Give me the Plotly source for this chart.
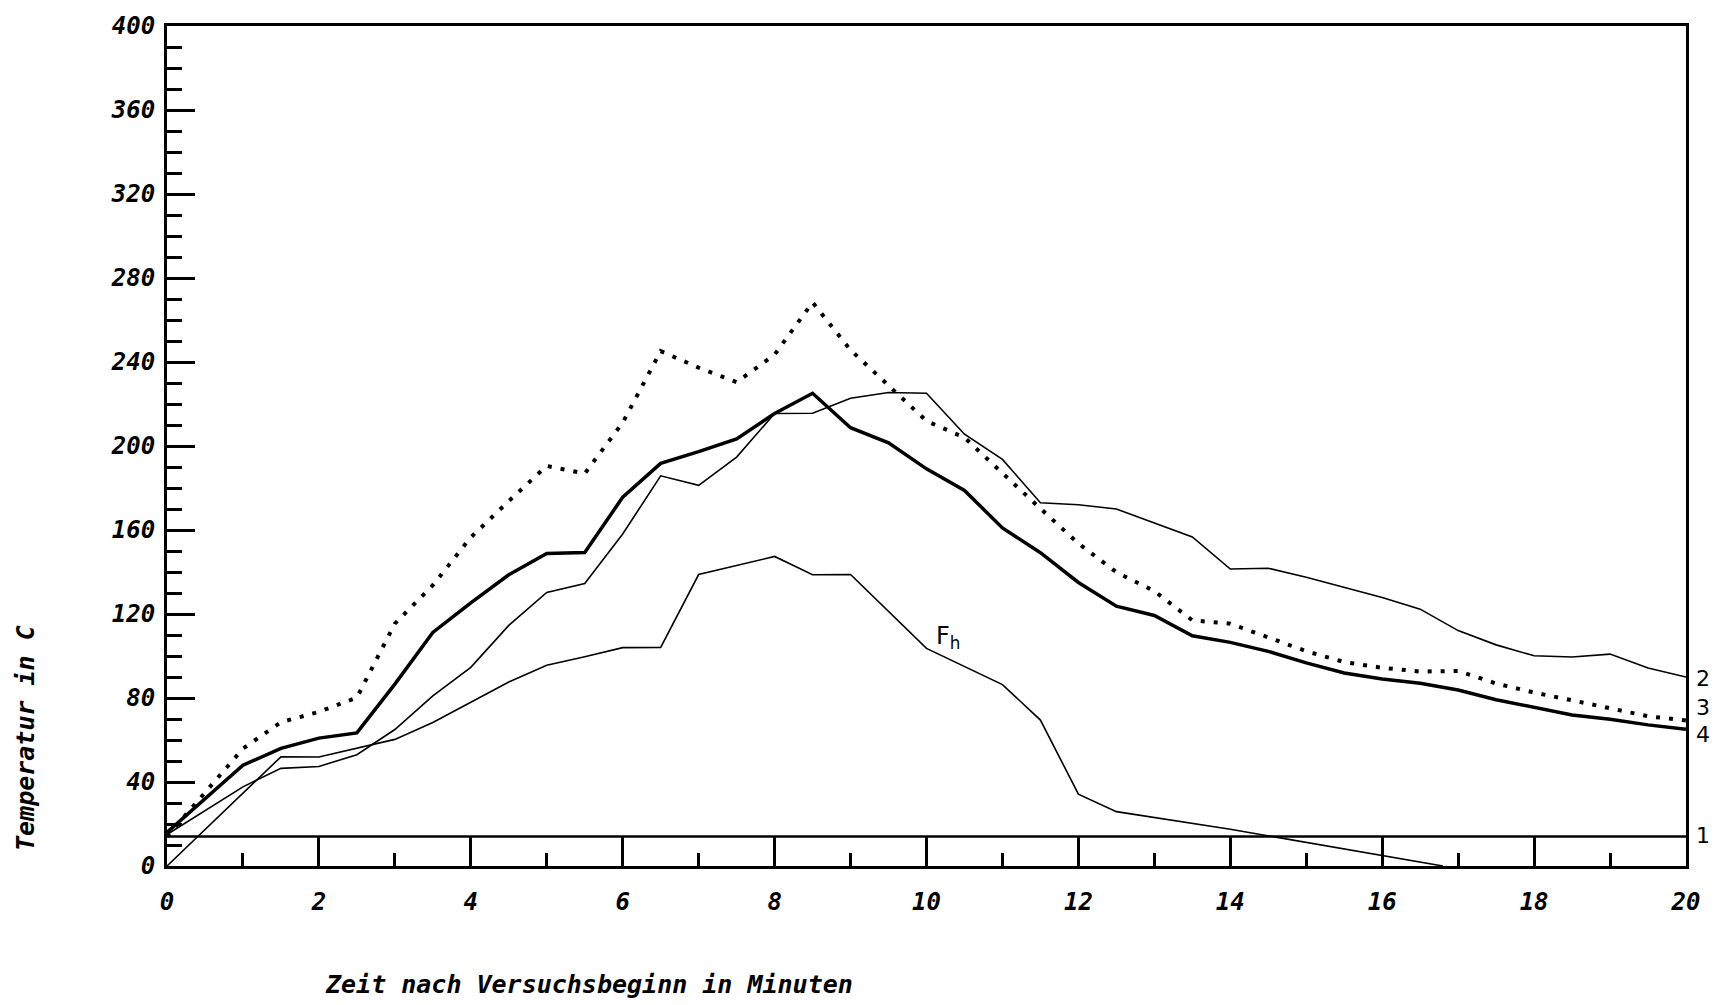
import plotly.graph_objects as go

# ---- data (time in minutes, temperature in C) ----
t_curve1 = [0, 20]
v_curve1 = [14, 14]

t_curve2 = [0, 1, 1.5, 2, 2.5, 3, 3.5, 4, 4.5, 5, 5.5, 6, 6.5, 7, 7.5, 8, 8.5, 9, 9.5, 10,
            10.5, 11, 11.5, 12, 12.5, 13, 13.5, 14, 14.5, 15, 15.5, 16, 16.5, 17, 17.5, 18,
            18.5, 19, 19.5, 20]
v_curve2 = [15, 37.7, 46.5, 47.4, 53, 65, 81, 94.6, 114.6, 130.3, 134.5, 158.1, 185.8, 181.3,
            194.7, 215.5, 215.6, 222.7, 225.5, 225.1, 205.6, 193.6, 173, 172, 170, 163.5, 156.7,
            141.4, 141.8, 137.5, 132.7, 127.9, 122.3, 112.1, 105.3, 100.1, 99.5, 100.9, 94.3, 90]

t_curve3 = [0, 1, 1.5, 2, 2.5, 3, 3.5, 4, 4.5, 5, 5.5, 6, 6.5, 7, 7.5, 8, 8.5, 9, 9.5, 10,
            10.5, 11, 11.5, 12, 12.5, 13, 13.5, 14, 14.5, 15, 15.5, 16, 16.5, 17, 17.5, 18,
            18.5, 19, 19.5, 20]
v_curve3 = [14, 55.9, 68.5, 73.4, 80.2, 115.4, 133.7, 156.5, 173.8, 190.5, 186.9, 211.1, 245.2,
            237.3, 230.4, 243.5, 268.4, 245.7, 228.8, 211.9, 204, 186.9, 170.2, 153.6, 139.9,
            130.9, 117, 115.4, 109.1, 102.3, 97.1, 94.4, 92.6, 92.9, 86.9, 82.6, 78.9, 74.9,
            71.3, 69.3]

t_curve4 = [0, 1, 1.5, 2, 2.5, 3, 3.5, 4, 4.5, 5, 5.5, 6, 6.5, 7, 7.5, 8, 8.5, 9, 9.5, 10,
            10.5, 11, 11.5, 12, 12.5, 13, 13.5, 14, 14.5, 15, 15.5, 16, 16.5, 17, 17.5, 18,
            18.5, 19, 19.5, 20]
v_curve4 = [16, 48.0, 56.0, 60.9, 63.4, 86.6, 111.2, 125.3, 138.7, 148.8, 149.3, 175.6, 191.7,
            197.3, 203.4, 215.5, 225.1, 208.7, 201.5, 189.1, 178.8, 161, 149.2, 135, 123.7,
            119.3, 109.6, 106.5, 102.2, 96.7, 91.9, 89, 87, 83.8, 79.2, 75.5, 71.9, 69.9, 67.2,
            65.1]

t_fh = [0, 1.5, 2, 2.5, 3, 3.5, 4, 4.5, 5, 5.5, 6, 6.5, 7, 8, 8.5, 9, 10, 11, 11.5, 12, 12.5,
        14, 16.8]
v_fh = [0, 52, 51.9, 56, 60.3, 68.3, 77.8, 87.6, 95.6, 99.6, 104, 104.1, 138.8, 147.4, 138.7,
        138.8, 103.6, 86.4, 69.5, 34.2, 25.9, 17.5, 0]

end_labels = ["2", "3", "4", "1"]
end_label_y = [89.5, 75.5, 62.5, 14.3]

x_title = "Zeit nach Versuchsbeginn in Minuten"
y_title = "Temperatur in C"

BLACK = "#000000"
tick_font = dict(family="DejaVu Sans Mono", size=24, color=BLACK, weight="bold", style="italic")

fig = go.Figure()
fig.add_trace(go.Scatter(x=t_curve1, y=v_curve1, mode="lines",
                         line=dict(color=BLACK, width=2.5), hoverinfo="skip"))
fig.add_trace(go.Scatter(x=t_curve2, y=v_curve2, mode="lines",
                         line=dict(color=BLACK, width=1.6), hoverinfo="skip"))
fig.add_trace(go.Scatter(x=t_fh, y=v_fh, mode="lines",
                         line=dict(color=BLACK, width=1.6), hoverinfo="skip"))
fig.add_trace(go.Scatter(x=t_curve4, y=v_curve4, mode="lines",
                         line=dict(color=BLACK, width=3.5), hoverinfo="skip"))
fig.add_trace(go.Scatter(x=t_curve3, y=v_curve3, mode="lines",
                         line=dict(color=BLACK, width=4, dash="4px,9px"), hoverinfo="skip"))

annotations = []
for lab, yy in zip(end_labels, end_label_y):
    annotations.append(dict(x=20, y=yy, xref="x", yref="y", text=lab, showarrow=False,
                            xanchor="left", yanchor="middle", xshift=8,
                            font=dict(family="DejaVu Sans", size=22, color=BLACK)))
annotations.append(dict(x=10.28, y=108.6, xref="x", yref="y", text="F<sub>h</sub>",
                        showarrow=False, font=dict(family="DejaVu Sans", size=24, color=BLACK)))
annotations.append(dict(x=589, y=984, xref="paper", yref="paper", text=x_title, showarrow=False,
                        xanchor="center", yanchor="middle",
                        font=dict(family="DejaVu Sans Mono", size=25, color=BLACK,
                                  weight="bold", style="italic")))
annotations.append(dict(x=25, y=738, xref="paper", yref="paper", text=y_title, showarrow=False,
                        textangle=-90, xanchor="center", yanchor="middle",
                        font=dict(family="DejaVu Sans Mono", size=25, color=BLACK,
                                  weight="bold", style="italic")))

# convert pixel positions of the two axis titles to paper coordinates
L, R, T, B = 167, 33, 26, 139
W, H = 1719, 1005
pw, ph = W - L - R, H - T - B
for a in annotations[-2:]:
    a["x"] = (a["x"] - L) / pw
    a["y"] = 1 - (a["y"] - T) / ph

fig.update_layout(
    width=W, height=H,
    margin=dict(l=L, r=R, t=T, b=B),
    paper_bgcolor="white", plot_bgcolor="white",
    showlegend=False,
    annotations=annotations,
    xaxis=dict(range=[0, 20], tick0=0, dtick=2, ticks="inside", ticklen=29, tickwidth=3,
               tickcolor=BLACK, showline=True, linecolor=BLACK, linewidth=3, mirror=True,
               showgrid=False, zeroline=False, tickfont=tick_font, ticklabelstandoff=12,
               minor=dict(dtick=1, tick0=0, ticks="inside", ticklen=13, tickwidth=3,
                          tickcolor=BLACK, showgrid=False)),
    yaxis=dict(range=[0, 400], tick0=0, dtick=40, ticks="inside", ticklen=28, tickwidth=3,
               tickcolor=BLACK, showline=True, linecolor=BLACK, linewidth=3, mirror=True,
               showgrid=False, zeroline=False, tickfont=tick_font, ticklabelstandoff=4,
               minor=dict(dtick=10, tick0=0, ticks="inside", ticklen=15, tickwidth=3,
                          tickcolor=BLACK, showgrid=False)),
)

fig.write_html("out.html")
